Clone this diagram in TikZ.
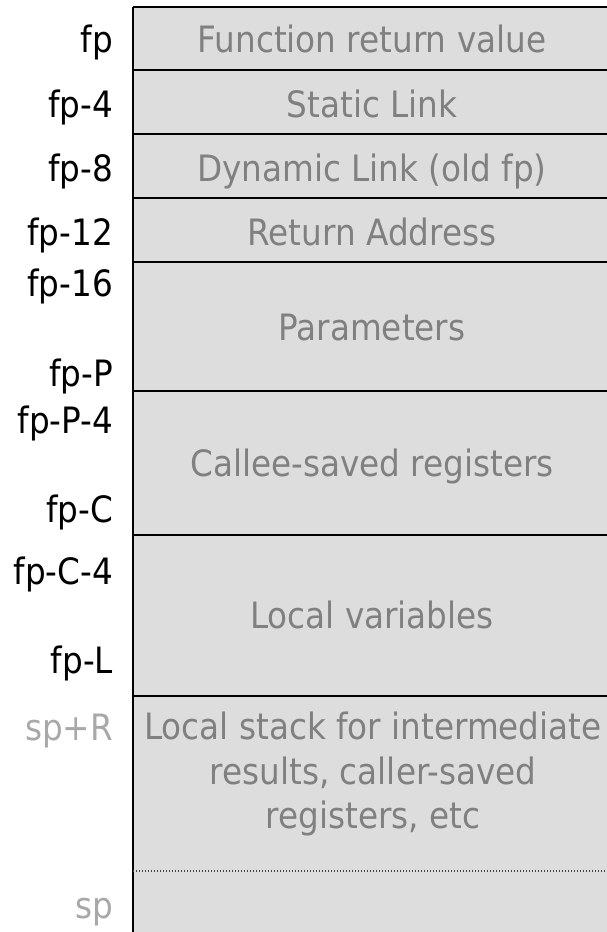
\documentclass[tikz,border=0pt]{standalone}
\usepackage{fontspec}
\setmainfont{DejaVu Sans Condensed}
\definecolor{cellfill}{HTML}{DDDDDD}
\definecolor{celltext}{HTML}{808080}
\definecolor{sptext}{HTML}{A8A8A8}
\begin{document}
\begin{tikzpicture}[x=1pt,y=-1pt,
  every node/.style={inner sep=0pt,outer sep=0pt,font=\fontsize{36.3}{44.5}\selectfont},
  cell/.style={anchor=base,text=celltext,align=center},
  addr/.style={anchor=base east,text=black},
  spaddr/.style={anchor=base east,text=sptext},
  rule/.style={line width=2pt,black},
  sepline/.style={line width=1.2pt,black!75,dash pattern=on 1.2pt off 1.8pt}]
\useasboundingbox (0,0) rectangle (607,932);
% frame body
\fill[cellfill] (133,7) rectangle (607,932);
\coordinate (tl) at (133,7);
\coordinate (bl) at (133,932);
\draw[rule] (tl) -- (bl);
\foreach \y/\n in {7/a,70/b,134/c,198/d,262/e,391/f,535/g,696/h}{
  \coordinate (L\n) at (133,\y);
  \coordinate (R\n) at (607,\y);
  \draw[rule] (L\n) -- (R\n);
}
\coordinate (dl) at (133,871);
\coordinate (dr) at (607,871);
\draw[sepline] (dl) -- (dr);
% frame contents
\node[cell] (frv) at (372,52) {Function return value};
\node[cell] (sl) at (372,117) {Static Link};
\node[cell] (dl2) at (372,181) {Dynamic Link (old fp)};
\node[cell] (ra) at (372,245) {Return Address};
\node[cell] (par) at (372,340) {Parameters};
\node[cell] (csr) at (372,476) {Callee-saved registers};
\node[cell] (lv) at (372,628) {Local variables};
\node[cell,anchor=north] (ls) at (373,712) {Local stack for intermediate\\results, caller-saved\\registers, etc};
% addresses
\node[addr] (a0) at (113,52) {fp};
\node[addr] (a1) at (113,117) {fp-4};
\node[addr] (a2) at (113,181) {fp-8};
\node[addr] (a3) at (113,245) {fp-12};
\node[addr] (a4) at (113,296) {fp-16};
\node[addr] (a5) at (113,386) {fp-P};
\node[addr] (a6) at (113,433) {fp-P-4};
\node[addr] (a7) at (113,522) {fp-C};
\node[addr] (a8) at (113,584) {fp-C-4};
\node[addr] (a9) at (113,673) {fp-L};
\node[spaddr] (s0) at (113,740) {sp+R};
\node[spaddr] (s1) at (113,918) {sp};
\end{tikzpicture}
\end{document}
